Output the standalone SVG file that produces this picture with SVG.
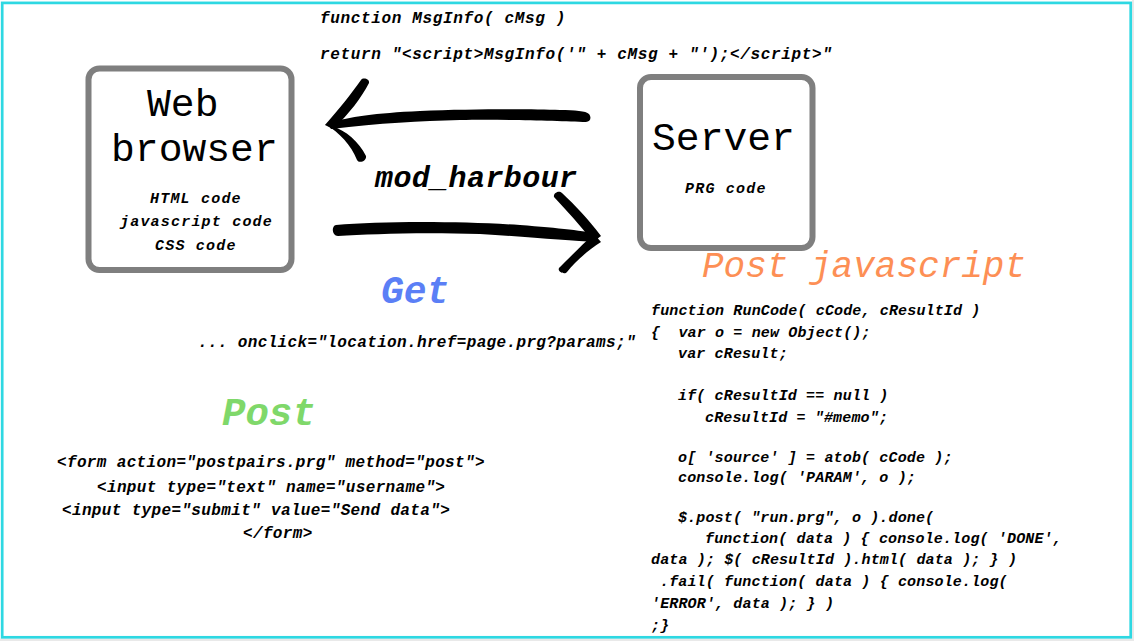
<svg xmlns="http://www.w3.org/2000/svg" width="1134" height="641" viewBox="0 0 1134 641">
  <style>
    .box { fill: #ffffff; stroke: #7f7f7f; stroke-width: 6; }
    .title { font-family: "Liberation Mono", "DejaVu Sans Mono", monospace; font-size: 39.7px; fill: #000000; }
    .code { font-family: "Liberation Mono", "DejaVu Sans Mono", monospace; font-weight: bold; font-style: italic; fill: #000000; }
    .c16 { font-size: 16px; letter-spacing: 0.35px; }
    .ctop { font-size: 16px; letter-spacing: 0.65px; }
    .cbox { font-size: 15px; letter-spacing: 1.2px; }
    .c15 { font-size: 15px; letter-spacing: 0.15px; }
    .mod { font-size: 30px; letter-spacing: 0.4px; }
    .head { font-family: "Liberation Mono", "DejaVu Sans Mono", monospace; font-style: italic; font-weight: bold; }
    .brush { fill: #000000; }
  </style>
  <rect x="0" y="0" width="1134" height="641" fill="#ffffff"/>

  <g id="top-code">
    <text class="code ctop" x="320" y="23">function MsgInfo( cMsg )</text>
    <text class="code ctop" x="320" y="59">return "&lt;script&gt;MsgInfo('" + cMsg + "');&lt;/script&gt;"</text>
  </g>

  <g id="web-browser">
    <rect class="box" x="88.5" y="68.5" width="203" height="201.5" rx="11"/>
    <text class="title" x="147" y="116">Web</text>
    <text class="title" x="111" y="161">browser</text>
    <text class="code cbox" x="150" y="203">HTML code</text>
    <text class="code cbox" x="120" y="226">javascript code</text>
    <text class="code cbox" x="155" y="250">CSS code</text>
  </g>

  <g id="server">
    <rect class="box" x="640" y="77" width="172.5" height="171" rx="11"/>
    <text class="title" x="652" y="150">Server</text>
    <text class="code cbox" x="685" y="193">PRG code</text>
  </g>

  <g id="connectors">
    <path class="brush" d="M327,123 C350,117 375,113 420,111 C470,109 530,109 560,110 C575,110 586,111 589,114 C592,118 590,122 586,122 C560,121 500,119 460,120 C420,121 380,123 331,129 Z"/>
    <path class="brush" d="M325,125 C340,108 351,94 361,80 C363,77 370,79 369,83 C361,98 350,113 333,129 Z"/>
    <path class="brush" d="M325,124 C340,133 351,145 357,160 C359,164 367,161 366,156 C359,142 346,130 331,126 Z"/>
    <path class="brush" d="M336,225 C380,221 460,221 520,225 C560,228 585,231 599,234 L597,242 C570,241 530,237 480,234 C420,232 370,234 338,236 C332,236 331,226 336,225 Z"/>
    <path class="brush" d="M593,242 C581,226 567,211 554,197 C553,193 559,190 562,193 C575,205 589,220 601,236 Z"/>
    <path class="brush" d="M594,234 C582,245 569,258 559,268 C557,272 565,275 567,272 C575,262 587,251 601,242 Z"/>
  </g>

  <g id="mod-harbour">
    <text class="code mod" x="375" y="187">mod_harbour</text>
  </g>

  <g id="get">
    <text class="head" x="381" y="303" font-size="38" fill="#5b7ff6">Get</text>
    <text class="code c16" x="198" y="347">... onclick="location.href=page.prg?params;"</text>
  </g>

  <g id="post">
    <text class="head" x="222" y="425" font-size="39" fill="#7fd86a">Post</text>
    <text class="code c16" x="57" y="467">&lt;form action="postpairs.prg" method="post"&gt;</text>
    <text class="code c16" x="97" y="492">&lt;input type="text" name="username"&gt;</text>
    <text class="code c16" x="62" y="515">&lt;input type="submit" value="Send data"&gt;</text>
    <text class="code c16" x="243" y="538">&lt;/form&gt;</text>
  </g>

  <g id="post-javascript">
    <text class="head" x="702" y="277" font-size="36" fill="#fd8f55" style="font-weight:normal">Post javascript</text>
    <text class="code c15" x="651" y="315">function RunCode( cCode, cResultId )</text>
    <text class="code c15" x="651" y="337" xml:space="preserve">{  var o = new Object();</text>
    <text class="code c15" x="678" y="358">var cResult;</text>
    <text class="code c15" x="678" y="400">if( cResultId == null )</text>
    <text class="code c15" x="705" y="422">cResultId = "#memo";</text>
    <text class="code c15" x="678" y="462">o[ 'source' ] = atob( cCode );</text>
    <text class="code c15" x="678" y="482">console.log( 'PARAM', o );</text>
    <text class="code c15" x="678" y="522">$.post( "run.prg", o ).done(</text>
    <text class="code c15" x="705" y="543">function( data ) { console.log( 'DONE',</text>
    <text class="code c15" x="651" y="564">data ); $( cResultId ).html( data ); } )</text>
    <text class="code c15" x="660" y="586">.fail( function( data ) { console.log(</text>
    <text class="code c15" x="651" y="608">'ERROR', data ); } )</text>
    <text class="code c15" x="651" y="630">;}</text>
  </g>

  <g id="frame">
    <rect x="1132" y="0" width="2" height="641" fill="#e9e9e9"/>
    <rect x="0" y="638.6" width="1134" height="2.4" fill="#e9e9e9"/>
    <rect x="2.2" y="2.9" width="1128.5" height="634.4" fill="none" stroke="#2ed8e2" stroke-width="2.7"/>
  </g>
</svg>
